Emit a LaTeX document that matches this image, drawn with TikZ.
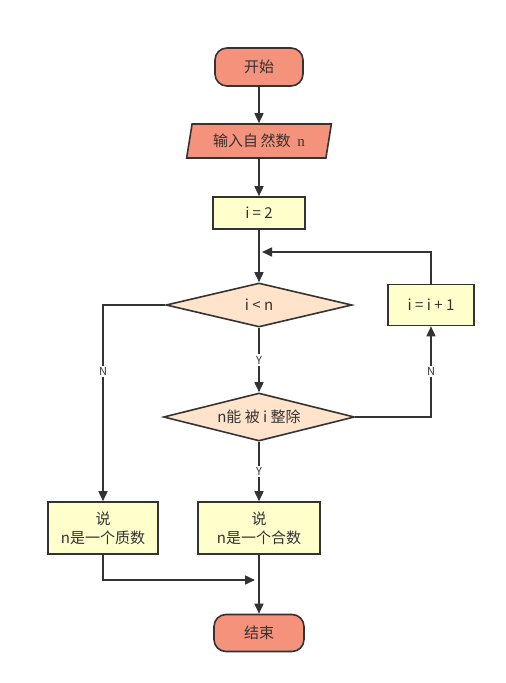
\documentclass[tikz,border=0pt]{standalone}
\usepackage{fontspec}
\setmainfont{Noto Sans CJK SC}
\newfontfamily\serifn{Liberation Serif}
\usetikzlibrary{arrows.meta,shapes.geometric}

\definecolor{salmon}{HTML}{F4927B}
\definecolor{paleyellow}{HTML}{FFFFCC}
\definecolor{peach}{HTML}{FFE3CB}
\definecolor{ink}{HTML}{333333}

\tikzset{
    base/.style={draw=ink, line width=1.6pt, text=ink, font=\fontsize{15}{19}\selectfont, inner sep=0pt, align=center},
    terminal/.style={base, fill=salmon, rounded corners=12pt, minimum width=88pt, minimum height=38pt},
    io/.style={base, fill=salmon, trapezium, trapezium left angle=75, trapezium right angle=105, minimum width=120pt, minimum height=34pt, trapezium stretches=true},
    proc/.style={base, fill=paleyellow, minimum width=92pt, minimum height=32pt},
    decide/.style={base, fill=peach, diamond, aspect=4.2},
    flow/.style={draw=ink, line width=1.6pt, -{Triangle[length=10pt,width=9pt]}},
    tag/.style={fill=white, text=ink, font=\fontsize{11}{13}\selectfont, inner sep=1.5pt}
}

\begin{document}
\begin{tikzpicture}[x=1pt, y=-1pt]
    \useasboundingbox (0, 0) rectangle (506, 683);

    \node[terminal] (start) at (259, 67) {开始};
    \node[io, minimum width=146pt] (input) at (259, 141) {输入自\,然数\ \ {\serifn n}};
    \node[proc] (init) at (259, 213) {i = 2};

    \node[decide, minimum width=186pt, minimum height=44pt] (cond) at (259, 305) {i < n};
    \node[proc, minimum width=86pt, minimum height=41pt] (incr) at (431, 305) {i = i + 1};
    \node[decide, minimum width=191pt, minimum height=48pt] (test) at (259, 417) {n能 被 i 整除};

    \node[proc, minimum width=110pt, minimum height=52pt] (prime) at (103, 528) {说\\n是一个质数};
    \node[proc, minimum width=122pt, minimum height=52pt] (comp) at (259, 528) {说\\n是一个合数};
    \node[terminal, minimum width=90pt, minimum height=37pt] (stop) at (259, 633) {结束};

    \coordinate (loop) at (262, 252);
    \coordinate (merge) at (255, 580);

    \draw[flow] (start) -- (input);
    \draw[flow] (input) -- (init);
    \draw[flow] (init) -- (cond);
    \draw[flow] (cond) -- node[tag] {Y} (test);
    \draw[flow] (test) -- node[tag] {Y} (comp);
    \draw[flow] (comp) -- (stop);
    \draw[flow] (test.east) -| node[tag, pos=0.75] {N} (incr.south);
    \draw[flow] (incr.north) |- (loop);
    \draw[flow] (cond.west) -| node[tag, pos=0.67] {N} (prime.north);
    \draw[flow] (prime.south) |- (merge);
\end{tikzpicture}
\end{document}
